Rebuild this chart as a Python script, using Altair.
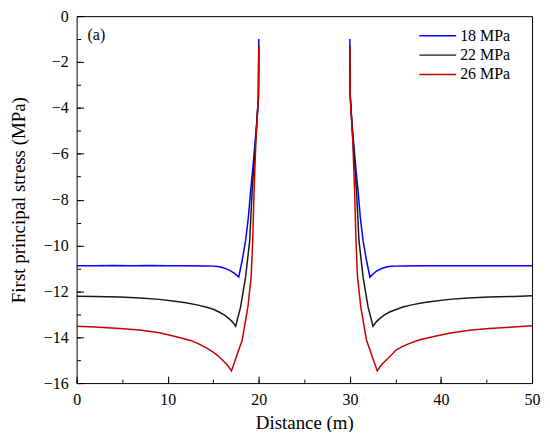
import altair as alt
import pandas as pd

# ---- data ----
series_names = ["18 MPa", "22 MPa", "26 MPa"]
series_colors = ["#0000ff", "#1a1a1a", "#cc0000"]

# left branch (0 -> 20 m) and right branch (30 -> 50 m) of each curve
blue_left_x = [0, 2, 4, 6, 8, 10, 12, 14, 15, 15.5, 16, 16.5, 17, 17.4, 17.8, 18.2, 18.55, 18.85, 19.1, 19.35, 19.6, 19.8, 19.96, 20]
blue_left_y = [-10.88, -10.88, -10.87, -10.88, -10.87, -10.88, -10.88, -10.89, -10.9, -10.92, -10.96, -11.03, -11.13, -11.24, -11.38, -10.6, -9.79, -8.8, -7.63, -6.6, -5.46, -4.5, -3.5, -1.0]
blue_right_x = [30, 30.04, 30.2, 30.4, 30.65, 30.9, 31.15, 31.45, 31.8, 32.2, 32.6, 33, 33.5, 34, 34.5, 35, 36, 38, 40, 42, 44, 46, 48, 50]
blue_right_y = [-1.0, -3.5, -4.5, -5.46, -6.6, -7.63, -8.8, -9.79, -10.6, -11.38, -11.22, -11.1, -11.0, -10.94, -10.91, -10.9, -10.89, -10.88, -10.88, -10.88, -10.88, -10.88, -10.88, -10.88]

black_left_x = [0, 2, 4.73, 7, 9.09, 11, 12, 13.2, 14.18, 15, 15.64, 16.2, 16.73, 17.1, 17.46, 18.0, 18.55, 19.0, 19.27, 19.5, 19.7, 19.96, 20]
black_left_y = [-12.21, -12.22, -12.25, -12.29, -12.35, -12.44, -12.5, -12.59, -12.68, -12.78, -12.9, -13.03, -13.19, -13.33, -13.52, -12.69, -11.38, -9.79, -7.63, -6.3, -5.2, -3.5, -1.3]
black_right_x = [30, 30.04, 30.3, 30.5, 30.73, 31.0, 31.45, 32.0, 32.54, 32.9, 33.27, 33.8, 34.36, 35.0, 35.82, 36.8, 38, 39, 40.9, 43, 45.27, 48, 50]
black_right_y = [-1.3, -3.5, -5.2, -6.3, -7.63, -9.79, -11.38, -12.69, -13.52, -13.33, -13.19, -13.03, -12.9, -12.8, -12.68, -12.59, -12.5, -12.44, -12.35, -12.29, -12.25, -12.22, -12.19]

red_left_x = [0, 2, 4.73, 6.91, 9.09, 11.28, 12.5, 13.46, 14.2, 14.91, 15.5, 16.0, 16.4, 16.73, 17.0, 17.5, 18.18, 18.8, 19.16, 19.33, 19.48, 19.68, 19.96, 20]
red_left_y = [-13.52, -13.55, -13.62, -13.69, -13.81, -14.01, -14.14, -14.3, -14.45, -14.63, -14.8, -14.99, -15.15, -15.31, -15.47, -14.9, -14.12, -12.69, -11.38, -9.79, -7.63, -5.46, -3.5, -1.35]
red_right_x = [30, 30.04, 30.32, 30.52, 30.67, 30.84, 31.2, 31.82, 32.5, 33.0, 33.27, 33.6, 34.0, 34.5, 35.1, 35.8, 36.5, 37.5, 38.7, 40.9, 43.1, 45.27, 48, 50]
red_right_y = [-1.35, -3.5, -5.46, -7.63, -9.79, -11.38, -12.69, -14.12, -14.9, -15.47, -15.31, -15.15, -14.99, -14.8, -14.55, -14.4, -14.28, -14.13, -14.01, -13.83, -13.7, -13.62, -13.55, -13.5]

x_major = [0, 10, 20, 30, 40, 50]
x_minor = [0, 5, 10, 15, 20, 25, 30, 35, 40, 45, 50]
y_major = [-16, -14, -12, -10, -8, -6, -4, -2, 0]
y_minor = list(range(-16, 1))

panel_label = "(a)"

branches = [
    ("18 MPa", "L", blue_left_x, blue_left_y), ("18 MPa", "R", blue_right_x, blue_right_y),
    ("22 MPa", "L", black_left_x, black_left_y), ("22 MPa", "R", black_right_x, black_right_y),
    ("26 MPa", "L", red_left_x, red_left_y), ("26 MPa", "R", red_right_x, red_right_y),
]
rows = []
for name, side, xs, ys in branches:
    for i, (xv, yv) in enumerate(zip(xs, ys)):
        rows.append({"Series": name, "side": side, "x": xv, "y": yv, "i": i})
df = pd.DataFrame(rows)

W, H = 458, 369
FONT = "Liberation Serif"

xscale = alt.Scale(domain=[0, 50], nice=False, zero=False)
yscale = alt.Scale(domain=[-16, 0], nice=False, zero=False)

lines = alt.Chart(df).mark_line(strokeWidth=1.5).encode(
    x=alt.X("x:Q", scale=xscale, axis=alt.Axis(
        orient="bottom", values=x_major, offset=-7, tickSize=7, tickWidth=1, tickColor="black",
        domain=False, grid=False, labelFlush=False, labelFont=FONT, labelFontSize=16,
        labelColor="black", labelPadding=8.5, title="Distance (m)", titleFont=FONT,
        titleFontSize=19, titleFontWeight="normal", titleColor="black",
        titleBaseline="alphabetic", titleX=W / 2, titleY=52.5)),
    y=alt.Y("y:Q", scale=yscale, axis=alt.Axis(
        orient="left", values=y_major, offset=-7, tickSize=7, tickWidth=1, tickColor="black",
        domain=False, grid=False, labelFlush=False, labelFont=FONT, labelFontSize=16,
        labelColor="black", labelPadding=8.5, title="First principal stress (MPa)",
        titleFont=FONT, titleFontSize=19, titleFontWeight="normal", titleColor="black",
        titleBaseline="alphabetic", titleAngle=270, titleX=-59, titleY=H / 2)),
    color=alt.Color("Series:N", scale=alt.Scale(domain=series_names, range=series_colors),
                    legend=alt.Legend(orient="none", legendX=343.7, legendY=11.7, title=None,
                                      symbolType="stroke", symbolSize=1369, symbolStrokeWidth=1.5,
                                      clipHeight=16, rowPadding=3.5, labelOffset=3, padding=0,
                                      labelFont=FONT, labelFontSize=16, labelColor="black")),
    detail="side:N",
    order=alt.Order("i:Q"),
)

minor = alt.Chart(df).mark_line(opacity=0).encode(
    x=alt.X("x:Q", scale=xscale, axis=alt.Axis(
        orient="bottom", values=x_minor, offset=-4, tickSize=4, tickWidth=1, tickColor="black",
        domain=False, grid=False, labels=False, title=None)),
    y=alt.Y("y:Q", scale=yscale, axis=alt.Axis(
        orient="left", values=y_minor, offset=-4, tickSize=4, tickWidth=1, tickColor="black",
        domain=False, grid=False, labels=False, title=None)),
    detail="Series:N",
)

label = alt.Chart(pd.DataFrame({"t": [panel_label]})).mark_text(
    align="left", baseline="middle", font=FONT, fontSize=16, color="black"
).encode(text="t:N", x=alt.value(11), y=alt.value(19))

chart = alt.layer(lines, minor, label).resolve_axis(x="independent", y="independent").properties(
    width=W, height=H,
    autosize=alt.AutoSizeParams(type="none"),
    padding={"left": 69, "top": 7, "right": 10, "bottom": 48},
).configure_view(stroke="black", strokeWidth=1)

chart.save("out.html", embed_options={"renderer": "svg", "actions": False})
